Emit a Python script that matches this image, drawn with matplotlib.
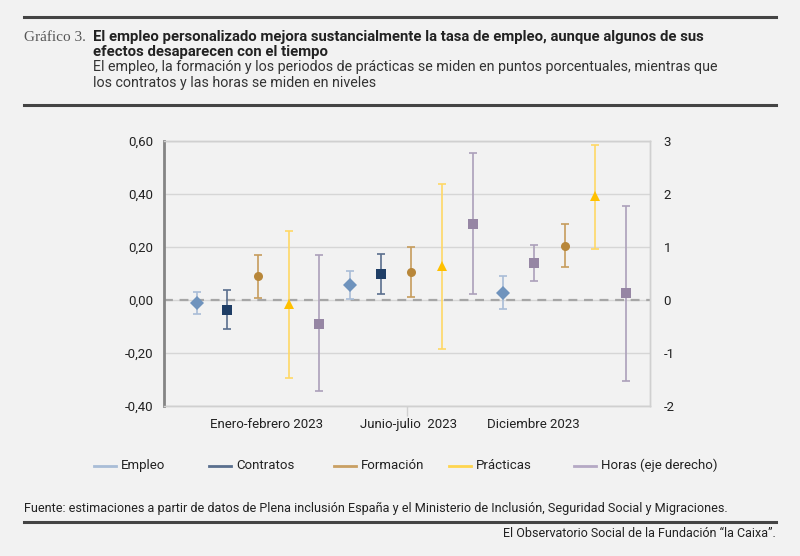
import matplotlib
matplotlib.use("Agg")
import matplotlib.pyplot as plt
from matplotlib.lines import Line2D
from matplotlib.ticker import FixedLocator, FixedFormatter

plt.rcParams["font.family"] = ["Roboto", "DejaVu Sans"]

# Data (left axis: p.p./niveles, right axis: horas)
periods = ["Enero-febrero 2023", "Junio-julio  2023", "Diciembre 2023"]

empleo = [-0.014, 0.054, 0.025]
empleo_lo = [-0.055, 0.001, -0.035]
empleo_hi = [0.028, 0.108, 0.088]

contratos = [-0.038, 0.098, 0.138]
contratos_lo = [-0.112, 0.021, 0.072]
contratos_hi = [0.038, 0.174, 0.206]

formacion = [0.088, 0.103, 0.203]
formacion_lo = [0.008, 0.011, 0.125]
formacion_hi = [0.170, 0.197, 0.284]

practicas = [-0.016, 0.128, 0.391]
practicas_lo = [-0.294, -0.187, 0.190]
practicas_hi = [0.260, 0.436, 0.582]

horas = [-0.45, 1.43, 0.13]
horas_lo = [-1.72, 0.11, -1.53]
horas_hi = [0.84, 2.77, 1.77]

left_ticks = [-0.4, -0.2, 0.0, 0.2, 0.4, 0.6]
left_labels = ["-0,40", "-0,20", "0,00", "0,20", "0,40", "0,60"]
right_ticks = [-2, -1, 0, 1, 2, 3]
right_labels = ["-2", "-1", "0", "1", "2", "3"]

BG = "#f2f2f2"
series = [
    ("Empleo", empleo, empleo_lo, empleo_hi, "D", "#6f93bd", "#a9bdd7", 7.0, "left"),
    ("Contratos", contratos, contratos_lo, contratos_hi, "s", "#1f3e66", "#5a6f8e", 6.5, "left"),
    ("Formación", formacion, formacion_lo, formacion_hi, "o", "#b8873a", "#c69c5c", 6.5, "left"),
    ("Prácticas", practicas, practicas_lo, practicas_hi, "^", "#ffc000", "#ffd866", 7.0, "left"),
    ("Horas (eje derecho)", horas, horas_lo, horas_hi, "s", "#9686a4", "#aca0ba", 6.5, "right"),
]
legend_colors = ["#a9bdd7", "#5a6f8e", "#c9a063", "#ffd54f", "#b5a9c4"]

fig = plt.figure(figsize=(8, 5.56), dpi=100, facecolor=BG)
ax = fig.add_axes([0.205, 0.2703, 0.607, 0.4767], facecolor=BG)
ax2 = ax.twinx()

n_series = len(series)
for s_idx, (name, vals, lo, hi, mk, mcol, ecol, ms, side) in enumerate(series):
    target = ax if side == "left" else ax2
    for p_idx in range(len(periods)):
        x = 1 + p_idx * n_series + s_idx
        v = vals[p_idx]
        m_c, e_c = mcol, ecol
        # in the source the December "Contratos" point is drawn in the Horas colour
        if name == "Contratos" and p_idx == 2:
            m_c, e_c = "#9686a4", "#aca0ba"
        target.errorbar(
            x, v,
            yerr=[[v - lo[p_idx]], [hi[p_idx] - v]],
            fmt="none", ecolor=e_c, elinewidth=1.2, capsize=3.2, capthick=1.2,
            zorder=3,
        )
        target.plot(x, v, marker=mk, color=m_c, markersize=ms,
                    markeredgewidth=0, linestyle="none", zorder=4)

ax.set_xlim(-0.07, 15.77)
ax.set_ylim(-0.4, 0.6)
ax2.set_ylim(-2, 3)

ax.yaxis.set_major_locator(FixedLocator(left_ticks))
ax.yaxis.set_major_formatter(FixedFormatter(left_labels))
ax2.yaxis.set_major_locator(FixedLocator(right_ticks))
ax2.yaxis.set_major_formatter(FixedFormatter(right_labels))

ax.grid(axis="y", color="#d6d6d6", linewidth=1.0, zorder=0)
ax.set_axisbelow(True)
ax.axhline(0, color="#a6a6a6", linewidth=1.6, linestyle=(0, (4, 3)), zorder=1)

ax.set_xticks([7.86])
ax.set_xticklabels([""])
ax.tick_params(axis="x", length=7, color="#d0d0d0", width=1)
ax.tick_params(axis="y", length=0, pad=8, labelsize=9.5, labelcolor="#222222")
ax2.tick_params(axis="y", length=0, pad=10, labelsize=9.5, labelcolor="#222222")

for spine_ax in (ax, ax2):
    for side in ("top", "right", "bottom", "left"):
        spine_ax.spines[side].set_color("#d0d0d0")
        spine_ax.spines[side].set_linewidth(1.0)
ax2.spines["left"].set_color("#858585")
ax2.spines["left"].set_linewidth(2.0)
ax.spines["left"].set_visible(False)

label_pos = [3.27, 7.91, 11.97]
for pos, lab in zip(label_pos, periods):
    ax.text(pos, -0.469, lab, ha="center", va="center", fontsize=9.5,
            color="#222222")

# legend built by hand to keep the fixed slot widths of the source
W, H = 800.0, 556.0
leg_x = [94, 209, 334, 449, 574]
for lx, (name, *_), lc in zip(leg_x, series, legend_colors):
    fig.add_artist(Line2D([lx / W, (lx + 22) / W], [1 - 465.5 / H] * 2,
                          color=lc, linewidth=2, transform=fig.transFigure))
    fig.text((lx + 27) / W, 1 - 465.5 / H, name, ha="left", va="center",
             fontsize=9.5, color="#222222")

# header
for y_rule in (17.3, 104.5, 521.7):
    fig.add_artist(Line2D([24 / W, 776 / W], [1 - y_rule / H] * 2,
                          color="#444444", linewidth=2.2, transform=fig.transFigure))

fig.text(24 / W, 1 - 40.7 / H, "Gráfico 3.", family=["Liberation Serif", "DejaVu Serif"],
         fontsize=11, color="#555555", va="baseline")
fig.text(92.7 / W, 1 - 40.7 / H,
         "El empleo personalizado mejora sustancialmente la tasa de empleo, aunque algunos de sus",
         fontsize=10.7, fontweight="bold", color="#222222", va="baseline")
fig.text(92.7 / W, 1 - 55.7 / H, "efectos desaparecen con el tiempo",
         fontsize=10.7, fontweight="bold", color="#222222", va="baseline")
fig.text(92.7 / W, 1 - 71.2 / H,
         "El empleo, la formación y los periodos de prácticas se miden en puntos porcentuales, mientras que",
         fontsize=10.3, color="#333333", va="baseline")
fig.text(92.7 / W, 1 - 86.5 / H, "los contratos y las horas se miden en niveles",
         fontsize=10.3, color="#333333", va="baseline")

fig.text(24 / W, 1 - 508 / H,
         "Fuente: estimaciones a partir de datos de Plena inclusión España y el Ministerio de Inclusión, Seguridad Social y Migraciones.",
         fontsize=9.1, color="#222222", va="center")
fig.text(776 / W, 1 - 533.5 / H, "El Observatorio Social de la Fundación “la Caixa”.",
         fontsize=9, color="#222222", va="center", ha="right")

fig.savefig("out.png", dpi=100, facecolor=BG)
